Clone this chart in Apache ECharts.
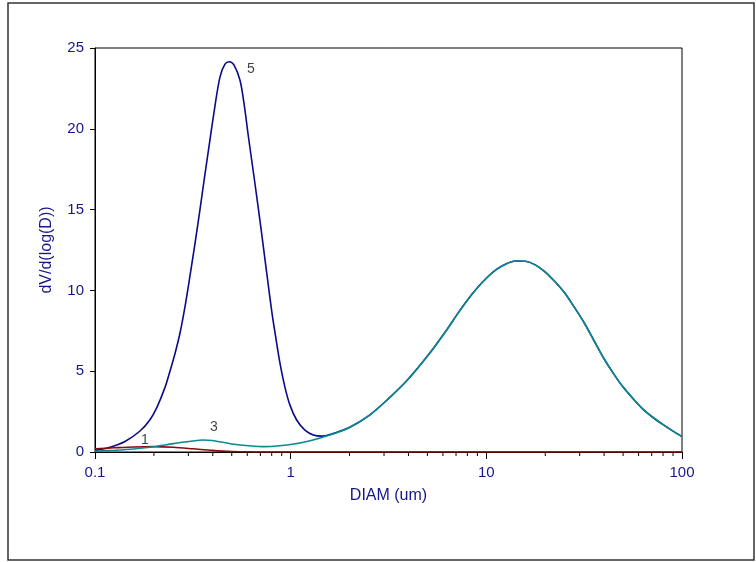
<!DOCTYPE html>
<html>
<head>
<meta charset="utf-8">
<script src="https://cdn.jsdelivr.net/npm/echarts@6/dist/echarts.min.js"></script>
<style>html,body{margin:0;padding:0;background:#fff}#c{width:756px;height:562px}</style>
</head>
<body>
<div id="c"></div>
<script>
// Curve 5 (navy)
const diam5 = [0.1, 0.1193, 0.1423, 0.1698, 0.191, 0.2075, 0.2279, 0.2416, 0.2564, 0.2718, 0.2884, 0.3058, 0.3243, 0.3439, 0.3648, 0.3824, 0.4102, 0.4351, 0.4615, 0.4855, 0.5129, 0.5508, 0.5771, 0.6068, 0.657, 0.7076, 0.754, 0.8028, 0.8414, 0.8817, 0.9353, 0.9917, 1.073, 1.183, 1.305, 1.445, 1.588, 1.995, 2.512, 3.162, 3.981, 5.012, 6.31, 7.079, 7.943, 8.913, 10, 11.22, 12.59, 14.13, 15.85, 17.78, 19.95, 22.39, 25.12, 28.18, 31.62, 35.48, 39.81, 44.67, 50.12, 56.23, 63.1, 70.79, 79.43, 89.13, 100];
const vol5  = [0.1, 0.3, 0.65, 1.3, 2.0, 2.78, 4.0, 5.0, 6.1, 7.35, 9.0, 10.9, 12.9, 15.0, 17.2, 18.9, 21.4, 23.2, 24.0, 24.15, 23.95, 23.0, 21.6, 19.6, 16.6, 13.7, 11.1, 8.6, 7.0, 5.5, 4.0, 2.9, 1.98, 1.35, 1.05, 0.98, 1.08, 1.52, 2.25, 3.3, 4.5, 5.95, 7.6, 8.5, 9.35, 10.1, 10.75, 11.28, 11.64, 11.82, 11.8, 11.58, 11.15, 10.55, 9.85, 8.95, 8.0, 6.9, 5.8, 4.85, 4.0, 3.3, 2.65, 2.15, 1.72, 1.32, 0.95];
// Curve 3 (teal)
const diam3 = [0.1, 0.126, 0.158, 0.2, 0.251, 0.316, 0.355, 0.398, 0.501, 0.631, 0.724, 0.794, 1.0, 1.259, 1.585, 1.995, 2.512, 3.162, 3.981, 5.012, 6.31, 7.079, 7.943, 8.913, 10, 11.22, 12.59, 14.13, 15.85, 17.78, 19.95, 22.39, 25.12, 28.18, 31.62, 35.48, 39.81, 44.67, 50.12, 56.23, 63.1, 70.79, 79.43, 89.13, 100];
const vol3  = [0.05, 0.11, 0.19, 0.32, 0.52, 0.68, 0.74, 0.71, 0.5, 0.37, 0.33, 0.34, 0.46, 0.7, 1.05, 1.52, 2.25, 3.3, 4.5, 5.95, 7.6, 8.5, 9.35, 10.1, 10.75, 11.28, 11.64, 11.82, 11.8, 11.58, 11.15, 10.55, 9.85, 8.95, 8.0, 6.9, 5.8, 4.85, 4.0, 3.3, 2.65, 2.15, 1.72, 1.32, 0.95];
// Curve 1 (dark red)
const diam1 = [0.1, 0.126, 0.158, 0.2, 0.251, 0.316, 0.398, 0.501, 0.631, 0.794, 1, 10, 100];
const vol1  = [0.2, 0.26, 0.31, 0.33, 0.29, 0.2, 0.1, 0.03, 0.005, 0, 0, 0, 0];
// Curve labels (annotation anchors in data units)
const curveNames = ['5', '3', '1'];
const nameDiam = [0.627, 0.405, 0.18];
const nameVol = [23.7, 1.55, 0.74];
// Axis ticks
const yTicks = [0, 5, 10, 15, 20, 25];
const xMajor = [0.1, 1, 10, 100];
const xMinor = [0.2, 0.3, 0.4, 0.5, 0.6, 0.7, 0.8, 0.9, 2, 3, 4, 5, 6, 7, 8, 9, 20, 30, 40, 50, 60, 70, 80, 90];

const zip = (a, b) => a.map((v, i) => [v, b[i]]);
const navyText = '#16168c';
const chart = echarts.init(document.getElementById('c'), null, {renderer: 'canvas'});
chart.setOption({
  animation: false,
  backgroundColor: '#fff',
  textStyle: {fontFamily: 'Liberation Sans, Arial, sans-serif'},
  graphic: [{
    type: 'rect', shape: {x: 8, y: 3, width: 746, height: 557},
    style: {fill: 'none', stroke: '#333', lineWidth: 1.5}, z: -1
  }],
  grid: {left: 95, right: 74, top: 48, bottom: 110, show: true, borderColor: '#000', borderWidth: 1},
  xAxis: {
    type: 'log', logBase: 10, min: xMajor[0], max: xMajor[xMajor.length - 1],
    name: 'DIAM (um)', nameLocation: 'middle', nameGap: 36,
    nameTextStyle: {color: navyText, fontSize: 16},
    axisLine: {onZero: false, lineStyle: {color: '#000', width: 1}},
    axisTick: {inside: false, length: 7, lineStyle: {color: '#000'}},
    axisLabel: {color: navyText, fontSize: 15, margin: 13, formatter: v => String(v)},
    splitLine: {show: false}, minorTick: {show: false}
  },
  yAxis: {
    type: 'value', min: yTicks[0], max: yTicks[yTicks.length - 1], interval: 5,
    name: 'dV/d(log(D))', nameLocation: 'middle', nameGap: 40, nameRotate: 90,
    nameTextStyle: {color: navyText, fontSize: 16},
    axisLine: {show: true, lineStyle: {color: '#000', width: 1}},
    axisTick: {show: true, inside: false, length: 5, lineStyle: {color: '#000'}},
    axisLabel: {color: navyText, fontSize: 15, margin: 11},
    splitLine: {show: false}
  },
  series: [
    {
      type: 'custom', name: 'minorTicks', silent: true, clip: false, z: 5,
      data: xMinor.map(v => [v, 0]),
      renderItem: (params, api) => {
        const p = api.coord([api.value(0), 0]);
        return {type: 'line', shape: {x1: p[0], y1: p[1], x2: p[0], y2: p[1] + 4},
                style: {stroke: '#000', lineWidth: 1}};
      }
    },
    {type: 'line', name: '5', data: zip(diam5, vol5), smooth: 0.3, showSymbol: false,
     lineStyle: {color: '#0a0a8a', width: 1.6}, z: 2},
    {type: 'line', name: '1', data: zip(diam1, vol1), smooth: 0.3, showSymbol: false,
     lineStyle: {color: '#8b0a0a', width: 1.6}, z: 3},
    {type: 'line', name: '3', data: zip(diam3, vol3), smooth: 0.3, showSymbol: false,
     lineStyle: {color: '#0a8a8f', width: 1.6}, z: 4},
    {
      type: 'scatter', name: 'labels', symbolSize: 0, silent: true, z: 6,
      data: curveNames.map((n, i) => ({value: [nameDiam[i], nameVol[i]], name: n})),
      label: {show: true, position: 'inside', formatter: p => p.name, color: '#111', fontSize: 14}
    }
  ]
});
</script>
</body>
</html>
